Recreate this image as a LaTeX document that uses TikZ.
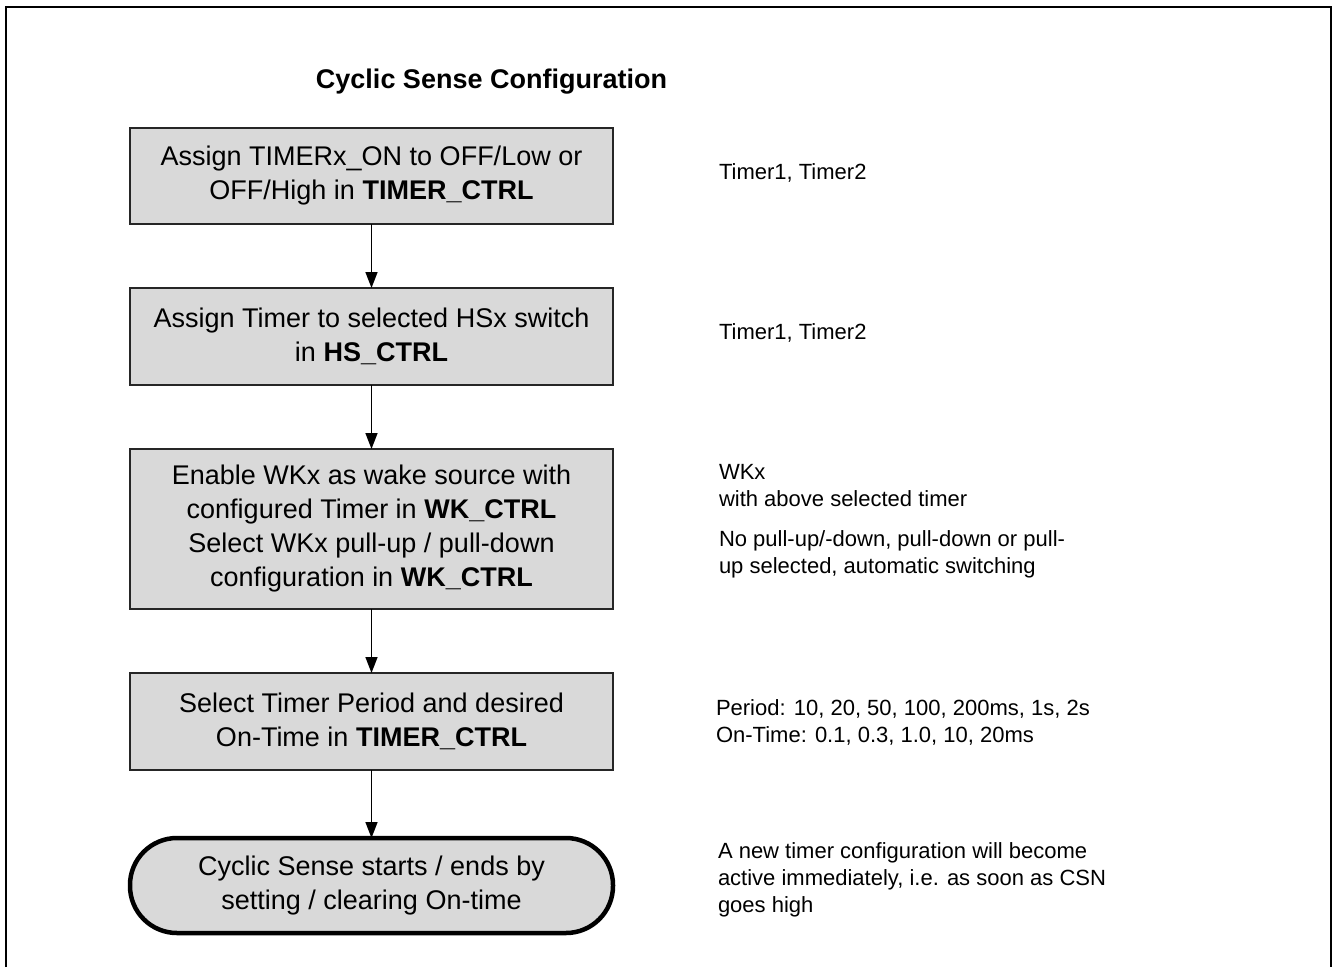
\documentclass[tikz,border=0pt]{standalone}
\usepackage{fontspec}
\setmainfont{Liberation Sans}
\usetikzlibrary{
    arrows.meta
}
\tikzset{
    every picture/.style = {
        > = {Triangle[length = 16pt, width = 12pt]},
        line width = 1.5pt
    },
    process/.style = {
        draw = black!85,
        fill = gray!30,
        line width = 1.5pt,
        minimum width = 483pt,
        minimum height = 96pt,
        inner sep = 0pt,
        outer sep = 0pt,
        align = center,
        font = \fontsize{27}{34}\selectfont
    },
    terminal/.style = {
        process,
        draw = black,
        line width = 4.5pt,
        rounded corners = 47pt,
        minimum height = 95pt
    },
    sidenote/.style = {
        anchor = base west,
        inner sep = 0pt,
        outer sep = 0pt,
        align = left,
        font = \fontsize{22}{27}\selectfont
    }
}

\begin{document}
\begin{tikzpicture}[x = 1pt, y = -1pt]

    \useasboundingbox (0, 0) rectangle (1333, 967);
    \draw[line width = 2pt] (6, 967) -- (6, 7) -- (1331, 7) -- (1331, 967);

    \node[font = \bfseries\fontsize{27}{32}\selectfont, inner sep = 0pt, anchor = base] (title) at (491.5, 88) {Cyclic Sense Configuration};

    \node[process] (timerctrl) at (371.5, 176) {Assign TIMERx\_ON to OFF/Low or\\OFF/High in \textbf{TIMER\_CTRL}};
    \node[process, minimum height = 97pt] (hsctrl) at (371.5, 336.5) {Assign Timer to selected HSx switch\\in \textbf{HS\_CTRL}};
    \node[process, minimum height = 160pt] (wkctrl) at (371.5, 529) {Enable WKx as wake source with\\configured Timer in \textbf{WK\_CTRL}\\Select WKx pull-up / pull-down\\configuration in \textbf{WK\_CTRL}};
    \node[process, minimum height = 97pt] (period) at (371.5, 721.5) {Select Timer Period and desired\\On-Time in \textbf{TIMER\_CTRL}};
    \node[terminal] (start) at (371.5, 885.5) {Cyclic Sense starts / ends by\\setting / clearing On-time};

    \path[->] (timerctrl) edge (hsctrl);
    \path[->] (hsctrl) edge (wkctrl);
    \path[->] (wkctrl) edge (period);
    \path[->] (period) edge (start);

    \node[sidenote] (timers1) at (719, 179) {Timer1, Timer2};
    \node[sidenote] (timers2) at (719, 339) {Timer1, Timer2};
    \node[sidenote] (wkx) at (719, 506) {WKx\\with above selected timer};
    \node[sidenote] (pull) at (719, 573) {No pull-up/-down, pull-down or pull-\\up selected, automatic switching};
    \node[sidenote] (values) at (716, 742) {Period: 10, 20, 50, 100, 200ms, 1s, 2s\\On-Time: 0.1, 0.3, 1.0, 10, 20ms};
    \node[sidenote] (csn) at (718, 912) {A new timer configuration will become\\active immediately, i.e. as soon as CSN\\goes high};

\end{tikzpicture}
\end{document}
